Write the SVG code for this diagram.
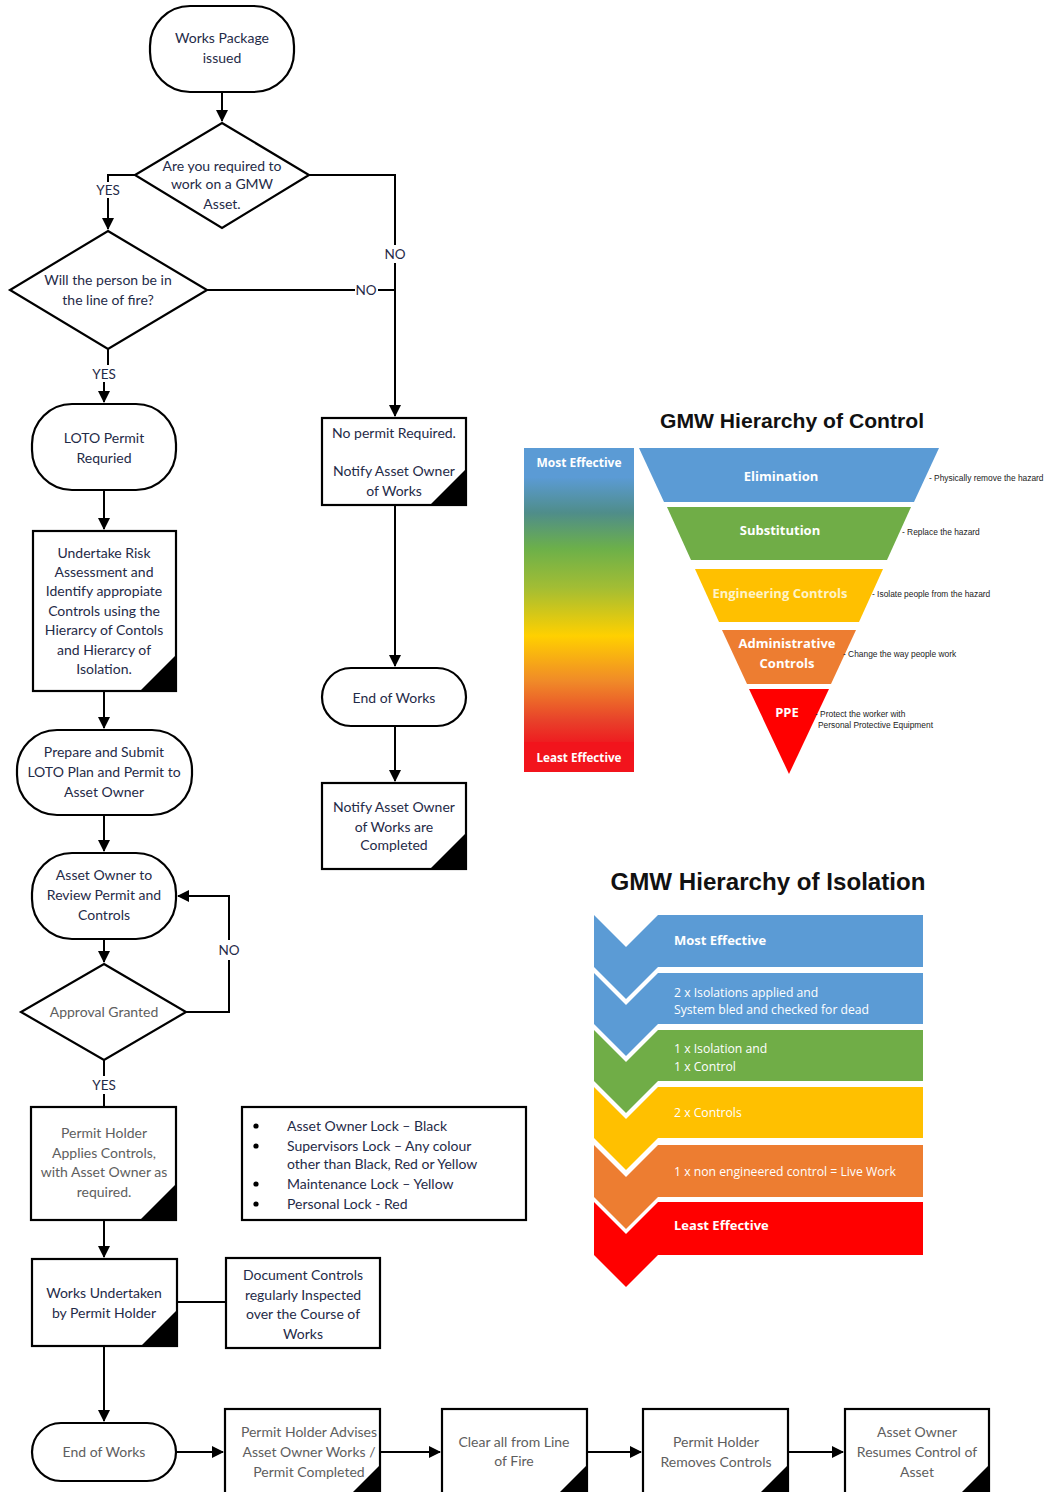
<svg xmlns="http://www.w3.org/2000/svg" width="1049" height="1492" viewBox="0 0 1049 1492">
<style>
.n{fill:#fff;stroke:#000;stroke-width:2.2}
.c{fill:none;stroke:#000;stroke-width:2}
.corner{fill:#000}
.t{font-family:Lato,"Liberation Sans",sans-serif;font-size:14px;fill:#1f2b48;text-anchor:middle}
.g{fill:#5e5e5e}
.lb{font-family:Lato,"Liberation Sans",sans-serif;font-size:13.5px;fill:#1f2b48;text-anchor:middle}
.bl{font-family:Lato,"Liberation Sans",sans-serif;font-size:14px;fill:#1f2b48}
.h{font-family:"Liberation Sans",Arial,sans-serif;font-weight:bold;fill:#111;text-anchor:middle}
.w{font-family:"Open Sans","Liberation Sans",sans-serif;font-weight:bold;fill:#fff;font-size:13px}
.wc{text-anchor:middle}
.wi{font-family:"Open Sans","Liberation Sans",sans-serif;fill:#fff;font-size:12.2px}
.s{font-family:"Liberation Sans",Arial,sans-serif;font-size:8.4px;fill:#222}
</style>
<defs>
<marker id="ah" markerWidth="12" markerHeight="12" refX="11" refY="6" orient="auto" markerUnits="userSpaceOnUse">
<path d="M0,0 L12,6 L0,12 z" fill="#000"/>
</marker>
<linearGradient id="grad" x1="0" y1="0" x2="0" y2="1">
<stop offset="0.09" stop-color="#5b9bd5"/>
<stop offset="0.2" stop-color="#4f8d8a"/>
<stop offset="0.31" stop-color="#6cb04a"/>
<stop offset="0.43" stop-color="#a2bd34"/>
<stop offset="0.58" stop-color="#ffd000"/>
<stop offset="0.72" stop-color="#f08a28"/>
<stop offset="0.84" stop-color="#e8422a"/>
<stop offset="0.91" stop-color="#ee1c20"/>
</linearGradient>
</defs>

<g id="connectors">
<path class="c" d="M222 92 V121" marker-end="url(#ah)"/>
<path class="c" d="M135 175 H108 V182"/>
<path class="c" d="M108 198 V229" marker-end="url(#ah)"/>
<path class="c" d="M309 175 H395 V245"/>
<path class="c" d="M395 263 V416" marker-end="url(#ah)"/>
<path class="c" d="M207 290 H355"/>
<path class="c" d="M378 290 H395"/>
<path class="c" d="M108 349 V365"/>
<path class="c" d="M104 382 V402" marker-end="url(#ah)"/>
<path class="c" d="M104 490 V529" marker-end="url(#ah)"/>
<path class="c" d="M104 691 V728" marker-end="url(#ah)"/>
<path class="c" d="M104 815 V851" marker-end="url(#ah)"/>
<path class="c" d="M104 939 V962" marker-end="url(#ah)"/>
<path class="c" d="M186 1012 H229 V960"/>
<path class="c" d="M229 940 V896 H178" marker-end="url(#ah)"/>
<path class="c" d="M104 1060 V1076"/>
<path class="c" d="M104 1094 V1107"/>
<path class="c" d="M104 1220 V1257" marker-end="url(#ah)"/>
<path class="c" d="M177 1302 H226"/>
<path class="c" d="M104 1346 V1421" marker-end="url(#ah)"/>
<path class="c" d="M176 1452 H223" marker-end="url(#ah)"/>
<path class="c" d="M380 1452 H440" marker-end="url(#ah)"/>
<path class="c" d="M587 1452 H641" marker-end="url(#ah)"/>
<path class="c" d="M788 1452 H843" marker-end="url(#ah)"/>
<path class="c" d="M395 505 V666" marker-end="url(#ah)"/>
<path class="c" d="M395 726 V781" marker-end="url(#ah)"/>
<text class="lb" x="108" y="195">YES</text>
<text class="lb" x="395" y="259">NO</text>
<text class="lb" x="366" y="295">NO</text>
<text class="lb" x="104" y="379">YES</text>
<text class="lb" x="229" y="955">NO</text>
<text class="lb" x="104" y="1090">YES</text>
</g>

<g id="works-package">
<rect class="n" x="150" y="6" width="144" height="86" rx="40"/>
<text class="t" x="222" y="43">Works Package</text>
<text class="t" x="222" y="63">issued</text>
</g>

<g id="q-gmw-asset">
<polygon class="n" points="222,123 309,175 222,228 135,175"/>
<text class="t" x="222" y="171">Are you required to</text>
<text class="t" x="222" y="189">work on a GMW</text>
<text class="t" x="222" y="209">Asset.</text>
</g>

<g id="q-line-of-fire">
<polygon class="n" points="108,231 207,290 108,349 10,290"/>
<text class="t" x="108" y="285">Will the person be in</text>
<text class="t" x="108" y="305">the line of fire?</text>
</g>

<g id="loto-permit">
<rect class="n" x="32" y="404" width="144" height="86" rx="40"/>
<text class="t" x="104" y="443">LOTO Permit</text>
<text class="t" x="104" y="463">Requried</text>
</g>

<g id="risk-assessment">
<rect class="n" x="33" y="531" width="143" height="160"/>
<polygon class="corner" points="176,655 176,691 140,691"/>
<text class="t" x="104" y="558">Undertake Risk</text>
<text class="t" x="104" y="577">Assessment and</text>
<text class="t" x="104" y="596">Identify appropiate</text>
<text class="t" x="104" y="616">Controls using the</text>
<text class="t" x="104" y="635">Hierarcy of Contols</text>
<text class="t" x="104" y="655">and Hierarcy of</text>
<text class="t" x="104" y="674">Isolation.</text>
</g>

<g id="prepare-submit">
<rect class="n" x="17" y="730" width="175" height="85" rx="40"/>
<text class="t" x="104" y="757">Prepare and Submit</text>
<text class="t" x="104" y="777">LOTO Plan and Permit to</text>
<text class="t" x="104" y="797">Asset Owner</text>
</g>

<g id="review-permit">
<rect class="n" x="32" y="853" width="144" height="86" rx="40"/>
<text class="t" x="104" y="880">Asset Owner to</text>
<text class="t" x="104" y="900">Review Permit and</text>
<text class="t" x="104" y="920">Controls</text>
</g>

<g id="approval">
<polygon class="n" points="104,964 186,1012 104,1060 21,1012"/>
<text class="t g" x="104" y="1017">Approval Granted</text>
</g>

<g id="applies-controls">
<rect class="n" x="31" y="1107" width="145" height="113"/>
<polygon class="corner" points="176,1184 176,1220 140,1220"/>
<text class="t g" x="104" y="1138">Permit Holder</text>
<text class="t g" x="104" y="1158">Applies Controls,</text>
<text class="t g" x="104" y="1177">with Asset Owner as</text>
<text class="t g" x="104" y="1197">required.</text>
</g>

<g id="locks">
<rect class="n" x="242" y="1107" width="284" height="113"/>
<circle cx="256" cy="1126" r="2.6" fill="#000"/>
<circle cx="256" cy="1146" r="2.6" fill="#000"/>
<circle cx="256" cy="1184" r="2.6" fill="#000"/>
<circle cx="256" cy="1204" r="2.6" fill="#000"/>
<text class="bl" x="287" y="1131">Asset Owner Lock – Black</text>
<text class="bl" x="287" y="1151">Supervisors Lock – Any colour</text>
<text class="bl" x="287" y="1169">other than Black, Red or Yellow</text>
<text class="bl" x="287" y="1189">Maintenance Lock – Yellow</text>
<text class="bl" x="287" y="1209">Personal Lock - Red</text>
</g>

<g id="works-undertaken">
<rect class="n" x="32" y="1259" width="145" height="87"/>
<polygon class="corner" points="177,1310 177,1346 141,1346"/>
<text class="t" x="104" y="1298">Works Undertaken</text>
<text class="t" x="104" y="1318">by Permit Holder</text>
</g>

<g id="document-controls">
<rect class="n" x="226" y="1258" width="154" height="90"/>
<text class="t" x="303" y="1280">Document Controls</text>
<text class="t" x="303" y="1300">regularly  Inspected</text>
<text class="t" x="303" y="1319">over the Course of</text>
<text class="t" x="303" y="1339">Works</text>
</g>

<g id="end-of-works-2">
<rect class="n" x="32" y="1423" width="144" height="58" rx="29"/>
<text class="t g" x="104" y="1457">End of Works</text>
</g>

<g id="advises">
<rect class="n" x="225" y="1409" width="155" height="92"/>
<polygon class="corner" points="380,1465 380,1501 344,1501"/>
<text class="t g" x="309" y="1437">Permit Holder Advises</text>
<text class="t g" x="309" y="1457">Asset Owner Works /</text>
<text class="t g" x="309" y="1477">Permit Completed</text>
</g>

<g id="clear-line-of-fire">
<rect class="n" x="442" y="1409" width="145" height="92"/>
<polygon class="corner" points="587,1465 587,1501 551,1501"/>
<text class="t g" x="514" y="1447">Clear all from Line</text>
<text class="t g" x="514" y="1466">of Fire</text>
</g>

<g id="removes-controls">
<rect class="n" x="643" y="1409" width="145" height="92"/>
<polygon class="corner" points="788,1465 788,1501 752,1501"/>
<text class="t g" x="716" y="1447">Permit Holder</text>
<text class="t g" x="716" y="1467">Removes Controls</text>
</g>

<g id="resumes-control">
<rect class="n" x="845" y="1409" width="144" height="92"/>
<polygon class="corner" points="989,1465 989,1501 953,1501"/>
<text class="t g" x="917" y="1437">Asset Owner</text>
<text class="t g" x="917" y="1457">Resumes Control of</text>
<text class="t g" x="917" y="1477">Asset</text>
</g>

<g id="no-permit">
<rect class="n" x="322" y="418" width="144" height="87"/>
<polygon class="corner" points="466,469 466,505 430,505"/>
<text class="t" x="394" y="438">No permit Required.</text>
<text class="t" x="394" y="476">Notify Asset Owner</text>
<text class="t" x="394" y="496">of Works</text>
</g>

<g id="end-of-works-1">
<rect class="n" x="322" y="668" width="144" height="58" rx="29"/>
<text class="t" x="394" y="703">End of Works</text>
</g>

<g id="notify-completed">
<rect class="n" x="322" y="783" width="144" height="86"/>
<polygon class="corner" points="466,833 466,869 430,869"/>
<text class="t" x="394" y="812">Notify Asset Owner</text>
<text class="t" x="394" y="832">of Works are</text>
<text class="t" x="394" y="850">Completed</text>
</g>

<g id="hierarchy-of-control">
<text class="h" x="792" y="428" font-size="21" textLength="264" lengthAdjust="spacingAndGlyphs">GMW Hierarchy of Control</text>
<rect x="524" y="448" width="110" height="324" fill="url(#grad)"/>
<rect x="524" y="448" width="110" height="30" fill="#5b9bd5"/>
<rect x="524" y="742" width="110" height="30" fill="#f2141c"/>
<text class="w wc" x="579" y="467" font-size="11.5" textLength="85" lengthAdjust="spacingAndGlyphs">Most Effective</text>
<text class="w wc" x="579" y="762" font-size="11.5" textLength="85" lengthAdjust="spacingAndGlyphs">Least Effective</text>
<polygon points="639,448 939,448 914,502 664,502" fill="#5b9bd5"/>
<polygon points="667,507 911,507 887,560 691,560" fill="#70ad47"/>
<polygon points="695,569 883,569 859,622 719,622" fill="#ffc000"/>
<polygon points="722,630 856,630 831,684 747,684" fill="#ed7d31"/>
<polygon points="749,689 829,689 789,774" fill="#ff0000"/>
<text class="w wc" x="781" y="481">Elimination</text>
<text class="w wc" x="780" y="535">Substitution</text>
<text class="w wc" x="780" y="598" style="fill:#fff3c8">Engineering Controls</text>
<text class="w wc" x="787" y="648">Administrative</text>
<text class="w wc" x="787" y="668">Controls</text>
<text class="w wc" x="787" y="717">PPE</text>
<text class="s" x="929" y="481">- Physically remove the hazard</text>
<text class="s" x="902" y="535">- Replace the hazard</text>
<text class="s" x="872" y="597">- Isolate people from the hazard</text>
<text class="s" x="843" y="657">- Change the way people work</text>
<text class="s" x="815" y="717">- Protect the worker with</text>
<text class="s" x="818" y="728">Personal Protective Equipment</text>
</g>

<g id="hierarchy-of-isolation">
<text class="h" x="768" y="890" font-size="24" textLength="315" lengthAdjust="spacingAndGlyphs">GMW Hierarchy of Isolation</text>
<polygon points="594,915 626,947 658,915 923,915 923,967 658,967 626,999 594,967" fill="#5b9bd5"/>
<polygon points="594,973 626,1005 658,973 923,973 923,1024 658,1024 626,1056 594,1024" fill="#5b9bd5"/>
<polygon points="594,1030 626,1062 658,1030 923,1030 923,1081 658,1081 626,1113 594,1081" fill="#70ad47"/>
<polygon points="594,1087 626,1119 658,1087 923,1087 923,1138 658,1138 626,1170 594,1138" fill="#ffc000"/>
<polygon points="594,1145 626,1177 658,1145 923,1145 923,1197 658,1197 626,1229 594,1197" fill="#ed7d31"/>
<polygon points="594,1202 626,1234 658,1202 923,1202 923,1255 658,1255 626,1287 594,1255" fill="#ff0000"/>
<text class="w" x="674" y="945" font-size="14">Most Effective</text>
<text class="wi" x="674" y="997">2 x Isolations applied and</text>
<text class="wi" x="674" y="1014">System bled and checked for dead</text>
<text class="wi" x="674" y="1053">1 x Isolation and</text>
<text class="wi" x="674" y="1071">1 x Control</text>
<text class="wi" x="674" y="1117">2 x Controls</text>
<text class="wi" x="674" y="1176">1 x non engineered control = Live Work</text>
<text class="w" x="674" y="1230" font-size="14">Least Effective</text>
</g>
</svg>
